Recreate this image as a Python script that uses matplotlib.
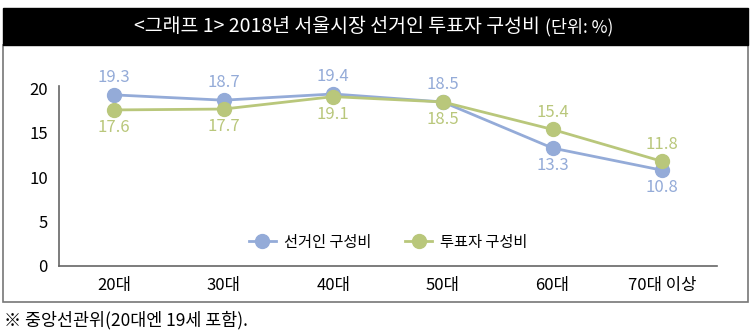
import matplotlib.pyplot as plt
from matplotlib.patches import Rectangle

plt.rcParams['font.family'] = ['Noto Sans CJK KR', 'DejaVu Sans']

ages = ['20대', '30대', '40대', '50대', '60대', '70대 이상']
electors = [19.3, 18.7, 19.4, 18.5, 13.3, 10.8]
voters = [17.6, 17.7, 19.1, 18.5, 15.4, 11.8]
yticks = [0, 5, 10, 15, 20]

blue = '#94abd8'
green = '#b9c77b'

fig = plt.figure(figsize=(7.5, 3.34), dpi=100)

# title bar and outer frame
fig.patches.append(Rectangle((3 / 750, 1 - 302 / 334), 745 / 750, 257 / 334,
                             transform=fig.transFigure, fill=False,
                             edgecolor='#777777', linewidth=1.2))
fig.patches.append(Rectangle((3 / 750, 1 - 45 / 334), 745 / 750, 37 / 334,
                             transform=fig.transFigure, facecolor='black',
                             edgecolor='black'))
fig.text(0.72, 1 - 27 / 334, '<그래프 1> 2018년 서울시장 선거인 투표자 구성비',
         color='white', fontsize=14, ha='right', va='center')
fig.text(0.727, 1 - 27 / 334, '(단위: %)', color='white', fontsize=12.5,
         ha='left', va='center')
fig.text(4 / 750, 1 - 320 / 334, '※ 중앙선관위(20대엔 19세 포함).',
         fontsize=12.5, ha='left', va='center')

ax = fig.add_axes([59 / 750, 1 - 266 / 334, 658 / 750, 180 / 334])
x = list(range(len(ages)))
ax.plot(x, electors, color=blue, lw=2, marker='o', ms=10, label='선거인 구성비')
ax.plot(x, voters, color=green, lw=2, marker='o', ms=10, label='투표자 구성비')

for i in x:
    up_blue = electors[i] >= voters[i]
    ax.annotate(f'{electors[i]}', (i, electors[i]), xytext=(0, 12.5 if up_blue else -12.5),
                textcoords='offset points', ha='center', va='center',
                color=blue, fontsize=12)
    ax.annotate(f'{voters[i]}', (i, voters[i]), xytext=(0, -12.5 if up_blue else 12.5),
                textcoords='offset points', ha='center', va='center',
                color=green, fontsize=12)

ax.set_xlim(-0.5, 5.5)
ax.set_ylim(0, 20.3)
ax.set_xticks(x)
ax.set_xticklabels(ages)
ax.set_yticks(yticks)
ax.tick_params(length=0, labelsize=12)
ax.tick_params(axis='x', pad=8)
ax.tick_params(axis='y', pad=8)
for s in ['top', 'right']:
    ax.spines[s].set_visible(False)
for s in ['left', 'bottom']:
    ax.spines[s].set_color('#666666')
    ax.spines[s].set_linewidth(1.2)
ax.patch.set_alpha(0)

ax.legend(loc='center', bbox_to_anchor=(0.5, 0.133), ncol=2, frameon=False,
          fontsize=11, handlelength=1.8, handletextpad=0.5, columnspacing=2.2)

fig.savefig('out.png', dpi=100)
